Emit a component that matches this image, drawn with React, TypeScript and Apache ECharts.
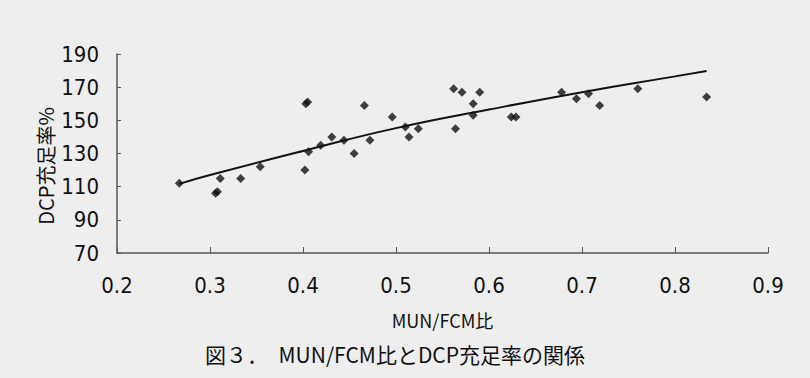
import React, { useEffect, useRef } from "react";
import * as echarts from "echarts";

const pointX = [0.267, 0.306, 0.308, 0.311, 0.333, 0.354, 0.402, 0.403, 0.405, 0.406, 0.419, 0.431, 0.444, 0.455, 0.466, 0.472, 0.496, 0.510, 0.514, 0.524, 0.562, 0.564, 0.571, 0.583, 0.583, 0.590, 0.624, 0.629, 0.678, 0.694, 0.707, 0.719, 0.760, 0.834];
const pointY = [112, 106, 107, 115, 115, 122, 120, 160, 161, 131, 135, 140, 138, 130, 159, 138, 152, 146, 140, 145, 169, 145, 167, 160, 153, 167, 152, 152, 167, 163, 166, 159, 169, 164];

const trendX = [0.267, 0.3, 0.4, 0.5, 0.6, 0.7, 0.8, 0.834];
const trendY = [111.7, 117, 131.5, 145.3, 156.5, 167, 176.5, 179.8];

const xTicks = [0.2, 0.3, 0.4, 0.5, 0.6, 0.7, 0.8, 0.9];
const yTicks = [70, 90, 110, 130, 150, 170, 190];

const xName = "MUN/FCM比";
const yName = "DCP充足率%";
const figTitle = "図３．　MUN/FCM比とDCP充足率の関係";

const CJK = '"Noto Sans CJK JP", sans-serif';
const NUM = '"Liberation Sans Narrow", "DejaVu Sans Condensed", "Noto Sans CJK JP", sans-serif';

export default function App() {
  const ref = useRef<HTMLDivElement>(null);
  useEffect(() => {
    if (!ref.current) return;
    const chart = echarts.init(ref.current, null, { renderer: "svg" });
    chart.setOption({
      animation: false,
      backgroundColor: "#eeeeee",
      title: {
        text: figTitle,
        left: 200,
        top: 338,
        textStyle: { fontFamily: CJK, fontSize: 21, fontWeight: "normal", color: "#111" },
      },
      graphic: [
        {
          type: "text",
          x: 45,
          y: 166,
          rotation: Math.PI / 2,
          style: {
            text: yName,
            fontFamily: CJK,
            fontSize: 20,
            fill: "#111",
            align: "center",
            verticalAlign: "middle",
          },
        },
      ],
      grid: { left: 117, right: 42, top: 54, bottom: 125 },
      xAxis: {
        type: "value",
        min: xTicks[0],
        max: xTicks[xTicks.length - 1],
        interval: 0.1,
        name: xName,
        nameLocation: "middle",
        nameGap: 58,
        nameTextStyle: { fontFamily: CJK, fontSize: 18, color: "#111" },
        axisLine: { show: true, lineStyle: { color: "#555", width: 1.5 } },
        axisTick: { show: true, inside: true, length: 6, lineStyle: { color: "#555" } },
        splitLine: { show: false },
        axisLabel: {
          margin: 21,
          fontFamily: NUM,
          fontSize: 22,
          color: "#111",
          formatter: (v: number) => v.toFixed(1),
        },
      },
      yAxis: {
        type: "value",
        min: yTicks[0],
        max: yTicks[yTicks.length - 1],
        interval: 20,
        axisLine: { show: true, lineStyle: { color: "#555", width: 1.5 } },
        axisTick: { show: true, inside: true, length: 4, lineStyle: { color: "#555" } },
        splitLine: { show: false },
        axisLabel: { margin: 18, fontFamily: NUM, fontSize: 22, color: "#111" },
      },
      series: [
        {
          type: "scatter",
          symbol: "diamond",
          symbolSize: 9,
          itemStyle: { color: "#111" },
          data: pointX.map((x, i) => [x, pointY[i]]),
        },
        {
          type: "line",
          smooth: true,
          showSymbol: false,
          symbol: "none",
          lineStyle: { color: "#111", width: 2 },
          data: trendX.map((x, i) => [x, trendY[i]]),
        },
      ],
    });
    return () => chart.dispose();
  }, []);
  return (
    <div
      ref={ref}
      style={{ position: "fixed", left: 0, top: 0, width: 810, height: 378 }}
    />
  );
}
